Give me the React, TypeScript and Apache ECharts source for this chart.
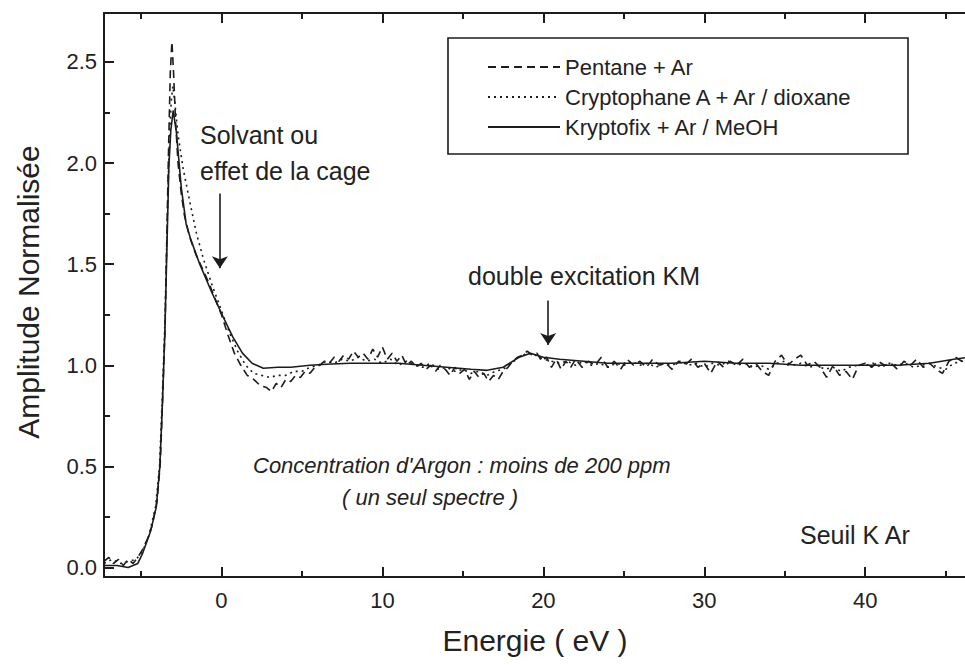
import React, { useEffect, useRef } from "react";
import * as echarts from "echarts";

// ---- data ----
const xMajorTicks = [0, 10, 20, 30, 40];
const xMinorTicks = [-5, 5, 15, 25, 35, 45];
const yMajorTicks = [0, 0.5, 1.0, 1.5, 2.0, 2.5];
const yMinorTicks = [0.25, 0.75, 1.25, 1.75, 2.25];

const seriesNames = ["Pentane + Ar", "Cryptophane A + Ar / dioxane", "Kryptofix + Ar / MeOH"];

const pentane: [number, number][] = [
  [-7.3, 0.03], [-7.0, 0.05], [-6.7, 0.02], [-6.4, 0.04], [-6.1, 0.01], [-5.8, 0.04], [-5.5, 0.02], [-5.2, 0.05],
  [-4.9, 0.09], [-4.6, 0.14], [-4.3, 0.21], [-4.0, 0.33], [-3.8, 0.52], [-3.65, 0.85], [-3.5, 1.2], [-3.38, 1.7],
  [-3.28, 2.1], [-3.18, 2.45], [-3.08, 2.6], [-2.98, 2.45], [-2.85, 2.2], [-2.7, 2.0], [-2.5, 1.85], [-2.3, 1.74],
  [-2.0, 1.64], [-1.6, 1.55], [-1.2, 1.48], [-0.8, 1.41], [-0.4, 1.33], [0.0, 1.25], [0.4, 1.15], [0.8, 1.06],
  [1.2, 1.0], [1.6, 0.95], [2.0, 0.93], [2.4, 0.9], [2.8, 0.89], [3.1, 0.87], [3.4, 0.91], [3.7, 0.89],
  [4.0, 0.93], [4.3, 0.92], [4.6, 0.95], [4.9, 0.94], [5.2, 0.97], [5.5, 0.96], [5.8, 0.99], [6.1, 1.0],
  [6.4, 1.02], [6.7, 1.01], [7.0, 1.04], [7.3, 1.02], [7.6, 1.05], [7.9, 1.03], [8.2, 1.07], [8.5, 1.04],
  [8.8, 1.06], [9.1, 1.03], [9.4, 1.08], [9.7, 1.04], [10.0, 1.09], [10.3, 1.03], [10.6, 1.06], [10.9, 1.02],
  [11.2, 1.05], [11.5, 1.0], [11.8, 1.02], [12.1, 0.99], [12.4, 1.01], [12.7, 0.98], [13.0, 1.0], [13.3, 0.97],
  [13.6, 1.0], [13.9, 0.98], [14.2, 0.95], [14.5, 0.99], [14.8, 0.96], [15.1, 0.98], [15.4, 0.93], [15.7, 0.97],
  [16.0, 0.94], [16.3, 0.96], [16.6, 0.92], [16.9, 0.95], [17.2, 0.93], [17.5, 0.97], [17.8, 0.99], [18.1, 1.02],
  [18.4, 1.04], [18.7, 1.05], [19.0, 1.07], [19.3, 1.05], [19.6, 1.06], [19.9, 1.02], [20.2, 1.04], [20.5, 0.99],
  [20.8, 1.03], [21.1, 0.98], [21.4, 1.02], [21.7, 0.99], [22.0, 1.03], [22.4, 0.99], [22.8, 1.02], [23.2, 1.0],
  [23.6, 1.04], [24.0, 0.99], [24.4, 1.02], [24.8, 0.98], [25.2, 1.03], [25.6, 1.0], [26.0, 1.02], [26.4, 0.99],
  [26.8, 1.03], [27.2, 1.0], [27.6, 1.01], [28.0, 0.98], [28.4, 1.02], [28.8, 1.0], [29.2, 1.03], [29.6, 0.99],
  [30.0, 1.01], [30.4, 0.96], [30.8, 1.02], [31.2, 0.99], [31.6, 1.02], [32.0, 1.0], [32.4, 1.03], [32.8, 0.99],
  [33.2, 1.01], [33.6, 0.97], [34.0, 0.95], [34.4, 1.02], [34.8, 1.05], [35.2, 1.0], [35.6, 1.03], [36.0, 1.05],
  [36.4, 1.0], [36.8, 1.02], [37.2, 0.99], [37.6, 0.94], [38.0, 1.0], [38.4, 0.95], [38.8, 0.97], [39.2, 0.93],
  [39.6, 1.0], [40.0, 1.01], [40.4, 0.99], [40.8, 1.02], [41.2, 1.0], [41.6, 1.01], [42.0, 0.98], [42.4, 1.02],
  [42.8, 1.0], [43.2, 1.03], [43.6, 0.99], [44.0, 1.01], [44.4, 0.98], [44.8, 0.96], [45.2, 1.02], [45.6, 1.04],
  [46.0, 1.02], [46.4, 1.05], [46.8, 1.01], [47.2, 1.03],
];

const cryptophane: [number, number][] = [
  [-7.3, 0.02], [-6.8, 0.04], [-6.3, 0.02], [-5.8, 0.03], [-5.3, 0.04], [-4.9, 0.08], [-4.5, 0.16], [-4.1, 0.3],
  [-3.85, 0.5], [-3.68, 0.84], [-3.52, 1.2], [-3.38, 1.68], [-3.26, 2.05], [-3.13, 2.3], [-3.02, 2.38], [-2.9, 2.3],
  [-2.7, 2.14], [-2.4, 1.98], [-2.0, 1.82], [-1.55, 1.65], [-1.1, 1.52], [-0.6, 1.4], [0.0, 1.27], [0.5, 1.16],
  [1.0, 1.07], [1.5, 1.0], [2.0, 0.96], [2.5, 0.95], [3.0, 0.94], [3.5, 0.95], [4.0, 0.95], [4.5, 0.97],
  [5.0, 0.97], [5.5, 0.99], [6.0, 1.0], [6.5, 1.02], [7.0, 1.01], [7.5, 1.03], [8.0, 1.02], [8.5, 1.04],
  [9.0, 1.02], [9.5, 1.03], [10.0, 1.01], [10.5, 1.03], [11.0, 1.0], [11.5, 1.02], [12.0, 1.0], [12.5, 0.99],
  [13.0, 1.01], [13.5, 0.98], [14.0, 0.99], [14.5, 0.97], [15.0, 0.98], [15.5, 0.96], [16.0, 0.97], [16.5, 0.95],
  [17.0, 0.97], [17.5, 0.98], [18.0, 1.01], [18.5, 1.04], [19.0, 1.06], [19.5, 1.05], [20.0, 1.03], [20.5, 1.02],
  [21.0, 1.01], [21.5, 1.02], [22.0, 1.0], [22.5, 1.02], [23.0, 1.0], [23.5, 1.01], [24.0, 0.99], [24.5, 1.01],
  [25.0, 1.0], [25.5, 1.02], [26.0, 1.0], [26.5, 1.01], [27.0, 0.99], [27.5, 1.01], [28.0, 1.0], [28.5, 1.02],
  [29.0, 1.0], [29.5, 1.01], [30.0, 0.99], [30.5, 1.01], [31.0, 1.0], [31.5, 1.02], [32.0, 1.0], [32.5, 1.01],
  [33.0, 0.99], [33.5, 1.0], [34.0, 0.98], [34.5, 1.01], [35.0, 1.02], [35.5, 1.0], [36.0, 1.01], [36.5, 0.99],
  [37.0, 1.0], [37.5, 0.98], [38.0, 0.99], [38.5, 0.97], [39.0, 0.99], [39.5, 1.0], [40.0, 1.0], [40.5, 1.01],
  [41.0, 0.99], [41.5, 1.01], [42.0, 1.0], [42.5, 1.01], [43.0, 0.99], [43.5, 1.0], [44.0, 1.01], [44.5, 0.99],
  [45.0, 0.98], [45.5, 1.01], [46.0, 1.02], [46.5, 1.03], [47.0, 1.02],
];

const kryptofix: [number, number][] = [
  [-7.3, 0.01], [-6.5, 0.01], [-5.8, 0.0], [-5.2, 0.02], [-4.9, 0.07], [-4.4, 0.18], [-4.05, 0.3], [-3.83, 0.5],
  [-3.66, 0.83], [-3.52, 1.16], [-3.37, 1.65], [-3.27, 1.98], [-3.15, 2.16], [-3.0, 2.26], [-2.8, 2.15], [-2.5, 1.88],
  [-2.2, 1.7], [-1.9, 1.62], [-1.35, 1.5], [-0.6, 1.36], [0.1, 1.24], [0.7, 1.14], [1.3, 1.06], [1.9, 1.01],
  [2.6, 0.985], [3.5, 0.99], [4.3, 0.99], [5.5, 1.0], [6.5, 1.005], [8.0, 1.01], [9.5, 1.01], [11.0, 1.01],
  [12.5, 1.0], [14.0, 0.99], [15.5, 0.98], [16.5, 0.975], [17.5, 0.99], [18.5, 1.04], [19.2, 1.06], [20.0, 1.04],
  [21.0, 1.03], [22.5, 1.02], [24.0, 1.01], [26.0, 1.01], [28.0, 1.01], [30.0, 1.02], [32.0, 1.01], [34.0, 1.01],
  [36.0, 1.0], [38.0, 1.0], [40.0, 1.0], [42.0, 1.0], [44.0, 1.01], [45.5, 1.03], [46.5, 1.04], [47.3, 1.03],
];

// annotation arrows: [x, yStart, yEnd]
const arrowSolvant: [number, number, number] = [-0.1, 1.85, 1.48];
const arrowKM: [number, number, number] = [20.3, 1.32, 1.1];

const INK = "#1c1c1c";
const FONT = '"Liberation Sans", Arial, Helvetica, sans-serif';

export default function App() {
  const ref = useRef<HTMLDivElement>(null);

  useEffect(() => {
    if (!ref.current) return;
    const chart = echarts.init(ref.current, undefined, { renderer: "svg" });

    const xRange = { min: -7.3, max: 48 };
    const yRange = { min: -0.047, max: 2.742 };

    const baseX = (position: "bottom" | "top", ticks: number[], len: number, showLine: boolean, labels: boolean) => ({
      type: "value",
      position,
      ...xRange,
      axisLine: { show: showLine, onZero: false, lineStyle: { color: INK, width: 2 } },
      axisTick: { show: true, inside: true, length: len, customValues: ticks, lineStyle: { color: INK, width: 2 } },
      axisLabel: labels
        ? { show: true, customValues: ticks, margin: 12, fontSize: 22, color: "#222", fontFamily: FONT }
        : { show: false },
      splitLine: { show: false },
    });
    const baseY = (ticks: number[], len: number, showLine: boolean, labels: boolean) => ({
      type: "value",
      position: "left",
      ...yRange,
      axisLine: { show: showLine, onZero: false, lineStyle: { color: INK, width: 2 } },
      axisTick: { show: true, inside: true, length: len, customValues: ticks, lineStyle: { color: INK, width: 2 } },
      axisLabel: labels
        ? {
            show: true,
            customValues: ticks,
            margin: 7,
            fontSize: 22,
            color: "#222",
            fontFamily: FONT,
            formatter: (v: number) => v.toFixed(1),
          }
        : { show: false },
      splitLine: { show: false },
    });

    const arrowLine = (a: [number, number, number]) => [
      { coord: [a[0], a[1]], symbol: "none" },
      { coord: [a[0], a[2]], symbol: "arrow" },
    ];

    chart.setOption({
      animation: false,
      backgroundColor: "#ffffff",
      grid: { left: 104, top: 13, right: -29, bottom: 88, containLabel: false, outerBoundsMode: "none" },
      xAxis: [
        baseX("bottom", xMajorTicks, 10, true, true),
        baseX("bottom", xMinorTicks, 6, false, false),
        baseX("top", xMajorTicks, 10, true, false),
        baseX("top", xMinorTicks, 6, false, false),
      ],
      yAxis: [baseY(yMajorTicks, 10, true, true), baseY(yMinorTicks, 6, false, false)],
      legend: {
        show: true,
        data: seriesNames,
        orient: "vertical",
        left: 487,
        top: 56,
        padding: 0,
        itemWidth: 72,
        itemHeight: 14,
        itemGap: 8,
        itemStyle: { opacity: 0, borderWidth: 0 },
        textStyle: { fontSize: 22, lineHeight: 22, color: "#222", fontFamily: FONT },
        selectedMode: false,
      },
      series: [
        {
          name: seriesNames[0],
          type: "line",
          data: pentane,
          symbol: "none",
          smooth: false,
          lineStyle: { color: INK, width: 1.6, type: [8, 5] },
          itemStyle: { color: INK },
          z: 3,
        },
        {
          name: seriesNames[1],
          type: "line",
          data: cryptophane,
          symbol: "none",
          lineStyle: { color: INK, width: 1.6, type: [2, 4] },
          itemStyle: { color: INK },
          z: 3,
        },
        {
          name: seriesNames[2],
          type: "line",
          data: kryptofix,
          symbol: "none",
          lineStyle: { color: INK, width: 1.6, type: "solid" },
          itemStyle: { color: INK },
          z: 4,
          markLine: {
            silent: true,
            animation: false,
            symbol: ["none", "arrow"],
            symbolSize: 12,
            label: { show: false },
            lineStyle: { color: INK, width: 1.6, type: "solid" },
            emphasis: { disabled: true },
            data: [arrowLine(arrowSolvant), arrowLine(arrowKM)],
          },
        },
      ],
      graphic: [
        {
          type: "rect",
          shape: { x: 448, y: 38, width: 460, height: 116 },
          style: { fill: "none", stroke: INK, lineWidth: 1.6 },
          z: 10,
        },
        {
          type: "text",
          x: 28,
          y: 292,
          rotation: Math.PI / 2,
          style: { text: "Amplitude Normalisée", font: `30px ${FONT}`, fill: "#222", align: "center", verticalAlign: "middle" },
        },
        {
          type: "text",
          x: 535,
          y: 640,
          style: { text: "Energie ( eV )", font: `30px ${FONT}`, fill: "#222", align: "center", verticalAlign: "middle" },
        },
        {
          type: "text",
          x: 200,
          y: 135,
          style: { text: "Solvant ou", font: `25px ${FONT}`, fill: "#222", align: "left", verticalAlign: "middle" },
        },
        {
          type: "text",
          x: 200,
          y: 171,
          style: { text: "effet de la cage", font: `25px ${FONT}`, fill: "#222", align: "left", verticalAlign: "middle" },
        },
        {
          type: "text",
          x: 468,
          y: 276,
          style: { text: "double excitation KM", font: `25px ${FONT}`, fill: "#222", align: "left", verticalAlign: "middle" },
        },
        {
          type: "text",
          x: 253,
          y: 465,
          style: {
            text: "Concentration d'Argon : moins de 200 ppm",
            font: `italic 22px ${FONT}`,
            fill: "#222",
            align: "left",
            verticalAlign: "middle",
          },
        },
        {
          type: "text",
          x: 342,
          y: 497,
          style: { text: "( un seul spectre )", font: `italic 22px ${FONT}`, fill: "#222", align: "left", verticalAlign: "middle" },
        },
        {
          type: "text",
          x: 800,
          y: 535,
          style: { text: "Seuil K Ar", font: `25px ${FONT}`, fill: "#222", align: "left", verticalAlign: "middle" },
        },
      ],
    });

    return () => chart.dispose();
  }, []);

  return (
    <div
      ref={ref}
      style={{ position: "absolute", left: 0, top: 0, width: 965, height: 665, background: "#fff" }}
    />
  );
}
